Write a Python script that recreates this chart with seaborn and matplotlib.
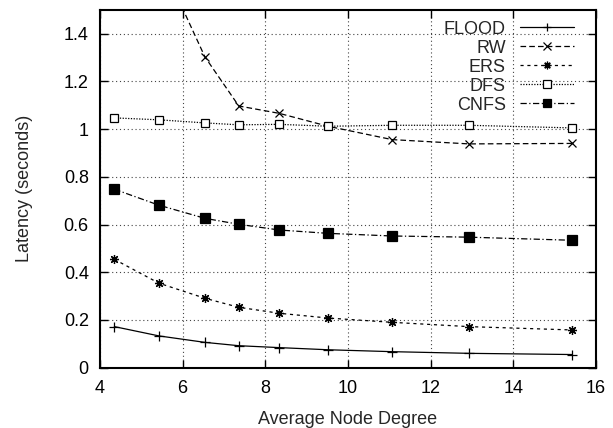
import matplotlib
matplotlib.use("Agg")
import matplotlib.pyplot as plt
import seaborn as sns
import pandas as pd

degree = [4.35, 5.43, 6.54, 7.36, 8.34, 9.52, 11.07, 12.93, 15.43]
flood = [0.172, 0.133, 0.106, 0.092, 0.084, 0.075, 0.067, 0.060, 0.055]
rw = [2.40, 1.72, 1.303, 1.097, 1.066, 1.012, 0.956, 0.938, 0.940]
ers = [0.454, 0.354, 0.291, 0.253, 0.228, 0.208, 0.190, 0.172, 0.158]
dfs = [1.047, 1.039, 1.026, 1.018, 1.020, 1.012, 1.016, 1.016, 1.005]
cnfs = [0.748, 0.681, 0.626, 0.601, 0.577, 0.563, 0.552, 0.547, 0.534]
series_names = ["FLOOD", "RW", "ERS", "DFS", "CNFS"]
x_ticks = [4, 6, 8, 10, 12, 14, 16]
y_ticks = [0, 0.2, 0.4, 0.6, 0.8, 1, 1.2, 1.4]
y_tick_labels = ["0", "0.2", "0.4", "0.6", "0.8", "1", "1.2", "1.4"]

sns.set_style("ticks")
plt.rcParams["font.family"] = ["Liberation Sans", "DejaVu Sans"]

values = [flood, rw, ers, dfs, cnfs]
rows = []
for name, vals in zip(series_names, values):
    for d, v in zip(degree, vals):
        rows.append({"degree": d, "latency": v, "method": name})
df = pd.DataFrame(rows)

fig = plt.figure(figsize=(6.13, 4.28), dpi=100)
ax = fig.add_axes([0.163, 0.141, 0.809, 0.836])

styles = {
    "FLOOD": dict(marker="+", ls="-", ms=6.5, mfc="black"),
    "RW": dict(marker="x", ls=(0, (4.5, 2.5)), ms=6, mfc="black"),
    "ERS": dict(marker=(8, 2, 0), ls=(0, (2.5, 3)), ms=6.5, mfc="black"),
    "DFS": dict(marker="s", ls=(0, (1, 1.2)), ms=6, mfc="white"),
    "CNFS": dict(marker="s", ls=(0, (5, 2, 1, 2)), ms=6.5, mfc="black"),
}

for name in series_names:
    st = styles[name]
    sub = df[df["method"] == name]
    sns.lineplot(data=sub, x="degree", y="latency", ax=ax, color="black",
                 linewidth=0.9, marker=st["marker"], markersize=st["ms"],
                 markerfacecolor=st["mfc"], markeredgecolor="black",
                 markeredgewidth=0.9, linestyle=st["ls"], label=name)

ax.set_xlim(4, 16)
ax.set_ylim(0, 1.5)
ax.set_xticks(x_ticks)
ax.set_yticks(y_ticks)
ax.set_yticklabels(y_tick_labels)
ax.tick_params(direction="in", length=6, width=1, top=True, right=True,
               labelsize=13, colors="black")
ax.tick_params(axis="x", pad=9)
ax.tick_params(axis="y", pad=8)
for sp in ax.spines.values():
    sp.set_visible(True)
    sp.set_linewidth(1.5)
    sp.set_color("black")
ax.grid(True, linestyle=(0, (1, 2.5)), color="#444444", linewidth=0.8)
ax.set_xlabel("Average Node Degree", fontsize=13, labelpad=10)
ax.set_ylabel("Latency (seconds)", fontsize=13, labelpad=22)

leg = ax.legend(loc="upper right", frameon=False, fontsize=13,
                markerfirst=False, handlelength=3.0, labelspacing=0.11,
                borderaxespad=0.0, borderpad=0.0, handletextpad=0.78,
                bbox_to_anchor=(0.956, 0.970))
for t in leg.get_texts():
    t.set_ha("right")
leg._legend_box.align = "right"
for h in leg.legend_handles:
    h.set_markersize(5.5)

fig.savefig("out.png", dpi=100)
